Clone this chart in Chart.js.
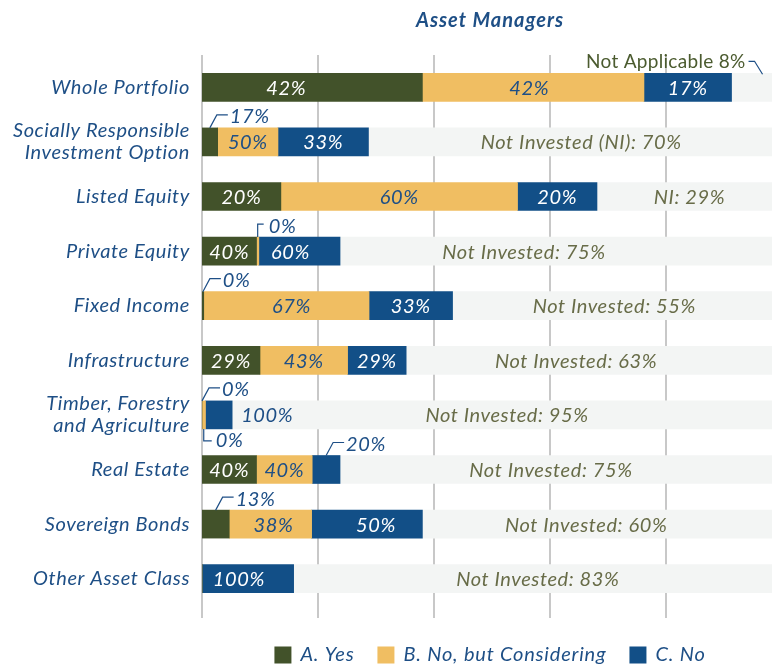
<!DOCTYPE html>
<html>
<head>
<meta charset="utf-8">
<script src="https://cdn.jsdelivr.net/npm/chart.js@4.4.1/dist/chart.umd.min.js"></script>
<style>
   body { margin: 0; overflow: hidden; background: #ffffff; }
   #wrap { width: 782px; height: 665px; position: relative; }
</style>
</head>
<body>
<div id="wrap"><canvas id="assetChart"></canvas></div>
<script>
const categories = [
   "Whole Portfolio",
   ["Socially Responsible", "Investment Option"],
   "Listed Equity",
   "Private Equity",
   "Fixed Income",
   "Infrastructure",
   ["Timber, Forestry", "and Agriculture"],
   "Real Estate",
   "Sovereign Bonds",
   "Other Asset Class"
];

// bar lengths as share of the whole row
const yesShare = [38.0, 2.7, 13.6, 9.4, 0.3, 10.0, 0, 9.4, 4.7, 0];
const consideringShare = [38.2, 10.4, 40.8, 0.4, 28.5, 15.1, 0.6, 9.6, 14.2, 0];
const noShare = [15.1, 15.6, 13.7, 14.0, 14.4, 10.1, 4.6, 4.8, 19.1, 15.8];
const notInvestedShare = [8.7, 71.3, 31.9, 76.2, 56.8, 64.8, 94.8, 76.2, 62.0, 84.2];

// printed labels
const yesLabels = ["42%", "17%", "20%", "40%", "0%", "29%", "0%", "40%", "13%", ""];
const consideringLabels = ["42%", "50%", "60%", "0%", "67%", "43%", "0%", "40%", "38%", ""];
const noLabels = ["17%", "33%", "20%", "60%", "33%", "29%", "100%", "20%", "50%", "100%"];
const notInvestedLabels = [
   "Not Applicable 8%",
   "Not Invested (NI): 70%",
   "NI: 29%",
   "Not Invested: 75%",
   "Not Invested: 55%",
   "Not Invested: 63%",
   "Not Invested: 95%",
   "Not Invested: 75%",
   "Not Invested: 60%",
   "Not Invested: 83%"
];

const seriesNames = ["A. Yes", "B. No, but Considering", "C. No"];
const gridTicks = [0, 20, 40, 60, 80, 100];

const COLORS = {
   yes: "#42522a",
   considering: "#f0be62",
   no: "#124f87",
   notInvested: "#f3f5f4",
   blueText: "#1e4f86",
   oliveText: "#686c48",
   naText: "#4b5b2f",
   grid: "#c8c8c8"
};

const LABEL_FONT = "italic 20px Lato";
const SPACING = "0.6px";

// small segments whose labels sit outside the bar
const callouts = {
   "3-0": "na",
   "0-1": "up",
   "1-3": "rise",
   "0-4": "up",
   "0-6": "up",
   "1-6": "drop",
   "2-6": "right",
   "2-7": "up",
   "0-8": "up"
};

// horizontal nudges (px) for labels that are not centred in their segment
const labelShift = {
   "0-0": -26, "1-0": -4,
   "2-3": -9, "1-4": 5,
   "1-8": 3, "2-8": 9, "2-9": -9,
   "3-1": 6, "3-3": -37, "3-4": -3, "3-5": -18, "3-7": -10, "3-8": -16
};

const gridPlugin = {
   id: "gridPlugin",
   beforeDraw(chart) {
      // widen the glyph spacing for every text drawn afterwards (tick labels too)
      chart.ctx.letterSpacing = SPACING;
   },
   beforeDatasetsDraw(chart) {
      const ctx = chart.ctx;
      const xScale = chart.scales.x;
      ctx.save();
      ctx.strokeStyle = COLORS.grid;
      ctx.lineWidth = 2;
      gridTicks.forEach((value) => {
         const px = Math.round(xScale.getPixelForValue(value));
         ctx.beginPath();
         ctx.moveTo(px, 55);
         ctx.lineTo(px, 618);
         ctx.stroke();
      });
      ctx.restore();
   }
};

function drawLeader(ctx, points) {
   ctx.save();
   ctx.strokeStyle = COLORS.blueText;
   ctx.lineWidth = 1.2;
   ctx.beginPath();
   ctx.moveTo(points[0][0], points[0][1]);
   points.slice(1).forEach(([px, py]) => ctx.lineTo(px, py));
   ctx.stroke();
   ctx.restore();
}

const labelPlugin = {
   id: "labelPlugin",
   afterDatasetsDraw(chart) {
      const ctx = chart.ctx;
      const labelSets = [yesLabels, consideringLabels, noLabels, notInvestedLabels];
      const insideColors = ["#ffffff", COLORS.blueText, "#ffffff", COLORS.oliveText];

      ctx.save();
      ctx.textBaseline = "middle";
      ctx.letterSpacing = SPACING;

      chart.data.datasets.forEach((dataset, di) => {
         const meta = chart.getDatasetMeta(di);
         meta.data.forEach((bar, row) => {
            const text = labelSets[di][row];
            if (!text) return;

            const key = `${di}-${row}`;
            const left = Math.min(bar.base, bar.x);
            const right = Math.max(bar.base, bar.x);
            const mid = (left + right) / 2;
            const top = bar.y - bar.height / 2;
            const bottom = bar.y + bar.height / 2;
            const style = callouts[key];

            ctx.font = LABEL_FONT;

            if (!style) {
               ctx.fillStyle = insideColors[di];
               ctx.textAlign = "center";
               ctx.fillText(text, mid + (labelShift[key] || 0), bar.y + 1);
               return;
            }

            ctx.fillStyle = COLORS.blueText;
            ctx.textAlign = "left";

            if (style === "up") {
               drawLeader(ctx, [[mid, top], [mid + 7, top - 13], [mid + 18, top - 13]]);
               ctx.fillText(text, mid + 20, top - 11);
            } else if (style === "rise") {
               drawLeader(ctx, [[mid, top], [mid, top - 13], [mid + 6, top - 13]]);
               ctx.fillText(text, mid + 11, top - 11);
            } else if (style === "drop") {
               drawLeader(ctx, [[mid, bottom], [mid, bottom + 12], [mid + 8, bottom + 12]]);
               ctx.fillText(text, mid + 12, bottom + 12);
            } else if (style === "right") {
               ctx.fillText(text, right + 9, bar.y + 1);
            } else if (style === "na") {
               ctx.font = "19px Lato";
               ctx.letterSpacing = "0.3px";
               ctx.fillStyle = COLORS.naText;
               ctx.textAlign = "right";
               ctx.fillText(text, left + 14, top - 11);
               ctx.letterSpacing = SPACING;
               drawLeader(ctx, [[left + 17, top - 12], [left + 23, top - 12], [left + 31, top + 1]]);
            }
         });
      });
      ctx.restore();
   }
};

const titleLegendPlugin = {
   id: "titleLegendPlugin",
   afterDraw(chart) {
      const ctx = chart.ctx;
      const area = chart.chartArea;
      const centerX = (area.left + area.right) / 2 - 2;

      ctx.save();
      ctx.textBaseline = "middle";
      ctx.fillStyle = COLORS.blueText;
      ctx.letterSpacing = "1px";
      ctx.font = "italic bold 20px Lato";
      ctx.textAlign = "center";
      ctx.fillText("Asset Managers", centerX, 21);

      ctx.letterSpacing = "0.8px";
      ctx.font = "italic 20px Lato";
      ctx.textAlign = "left";
      const box = 17;
      const boxGap = 9;
      const itemGap = 23;
      const swatches = [COLORS.yes, COLORS.considering, COLORS.no];
      const widths = seriesNames.map((name) => box + boxGap + ctx.measureText(name).width);
      const total = widths.reduce((a, b) => a + b, 0) + itemGap * (seriesNames.length - 1);
      let x = centerX - total / 2;
      const y = 655;

      seriesNames.forEach((name, i) => {
         ctx.fillStyle = swatches[i];
         ctx.fillRect(x, y - box / 2, box, box);
         ctx.fillStyle = COLORS.blueText;
         ctx.fillText(name, x + box + boxGap, y);
         x += widths[i] + itemGap;
      });
      ctx.restore();
   }
};

new Chart(document.getElementById("assetChart"), {
   type: "bar",
   data: {
      labels: categories,
      datasets: [
         { label: seriesNames[0], data: yesShare, backgroundColor: COLORS.yes },
         { label: seriesNames[1], data: consideringShare, backgroundColor: COLORS.considering },
         { label: seriesNames[2], data: noShare, backgroundColor: COLORS.no },
         { label: "Not Invested", data: notInvestedShare, backgroundColor: COLORS.notInvested }
      ]
   },
   options: {
      indexAxis: "y",
      responsive: true,
      maintainAspectRatio: false,
      animation: false,
      devicePixelRatio: 1,
      layout: {
         padding: { top: 60, bottom: 59, left: 0, right: 0 }
      },
      datasets: {
         bar: {
            barThickness: 28,
            borderWidth: 0,
            borderSkipped: false
         }
      },
      plugins: {
         legend: { display: false },
         tooltip: { enabled: false },
         title: { display: false }
      },
      scales: {
         x: {
            display: false,
            stacked: true,
            min: 0,
            max: 100
         },
         y: {
            stacked: true,
            grid: { display: false, drawTicks: false },
            border: { display: false },
            ticks: {
               padding: 12,
               color: COLORS.blueText,
               font: { family: "Lato", size: 20, style: "italic", lineHeight: 1.1 }
            },
            afterFit(scale) {
               scale.width = 202;
            }
         }
      }
   },
   plugins: [gridPlugin, labelPlugin, titleLegendPlugin]
});
</script>
</body>
</html>
